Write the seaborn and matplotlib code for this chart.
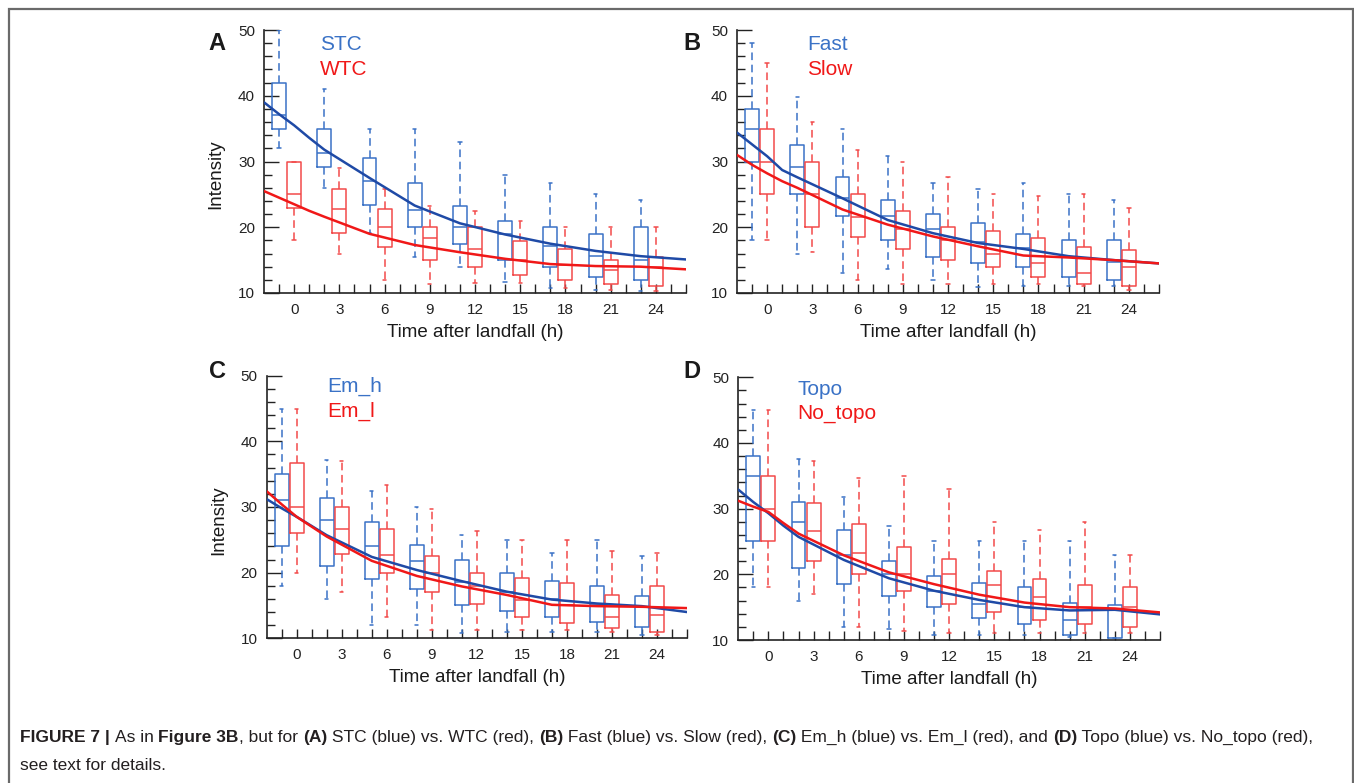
import matplotlib
matplotlib.use("Agg")
import matplotlib.pyplot as plt
import seaborn as sns
from matplotlib.patches import Rectangle
from matplotlib.ticker import MultipleLocator

# box stats per lead time: [whisker low, Q1, median, Q3, whisker high]
times = [0, 3, 6, 9, 12, 15, 18, 21, 24]

stc = [[32, 35, 37, 42, 50], [26, 29.2, 31.3, 35, 41], [19.2, 23.4, 27, 30.5, 35],
       [15.5, 20, 22.6, 26.7, 35], [14, 17.5, 20, 23.3, 33], [11.7, 15, 18.9, 21, 28],
       [10.8, 14, 17.2, 20, 26.7], [10.5, 12.4, 15.6, 19, 25], [10.3, 12, 15, 20, 24.1]]
wtc = [[18, 23, 25, 30, 30], [16, 19.2, 22.7, 25.8, 29], [12, 17, 20, 22.7, 25.8],
       [11.3, 15, 18.3, 20, 23.3], [11.5, 14, 16.7, 20, 22.5], [11.5, 12.8, 15, 17.9, 21],
       [10.8, 12, 14.3, 16.7, 20], [10.5, 11.3, 13.5, 15, 20], [10.3, 11, 13.9, 15.5, 20]]

fast = [[18, 30, 35, 38, 48], [16, 25, 29.2, 32.5, 39.8], [13, 21.7, 24.4, 27.7, 35],
        [13.7, 18, 21.7, 24.2, 30.8], [12, 15.5, 19.7, 22, 26.7], [10.9, 14.5, 17.8, 20.6, 25.8],
        [11, 14, 16.8, 19, 26.7], [11, 12.5, 15.4, 18, 25], [11, 12, 14.7, 18, 24.2]]
slow = [[18, 25, 30, 35, 45], [16.2, 20, 25, 30, 36], [12, 18.5, 21.6, 25, 31.7],
        [11.4, 16.7, 19.7, 22.5, 30], [11.3, 15, 18, 20, 27.6], [11.3, 14, 15.9, 19.4, 25],
        [11.3, 12.4, 14.6, 18.4, 24.7], [11, 11.4, 13, 17, 25], [10.5, 11.1, 14, 16.6, 23]]

emh = [[18, 24, 31, 35, 45], [16, 21, 28, 31.3, 37.2], [12, 19, 24, 27.7, 32.5],
       [12, 17.5, 21.7, 24.2, 30], [10.8, 15, 18.6, 22, 25.8], [11, 14.2, 17, 20, 25],
       [11, 13.3, 16, 18.7, 23], [11, 12.5, 15, 18, 25], [10.5, 11.7, 14.8, 16.5, 22.5]]
eml = [[20, 26, 30, 36.7, 45], [17, 22.8, 26.7, 30, 37], [13.3, 20, 22.7, 26.7, 33.3],
       [11.3, 17, 20, 22.5, 29.7], [11.3, 15.3, 18, 20, 26.3], [11.3, 13.3, 15.9, 19.2, 25],
       [11.3, 12.4, 15, 18.4, 25], [11, 11.6, 13.3, 16.6, 23.3], [10.5, 10.9, 13.5, 18, 23]]

topo = [[18, 25, 35, 38, 45], [16, 21, 28, 31, 37.5], [12, 18.5, 23, 26.7, 31.7],
        [11.7, 16.7, 20, 22.1, 27.4], [10.8, 15, 17.5, 19.7, 25], [10.8, 13.3, 15.5, 18.7, 25],
        [10.8, 12.4, 15, 18, 25], [10.5, 10.8, 13, 15.7, 25], [10.25, 10.25, 14.5, 15.4, 23]]
notopo = [[18, 25, 30, 35, 45], [17, 22.1, 26.6, 30.8, 37.2], [12, 20, 23.3, 27.7, 34.7],
          [11.3, 17.5, 20, 24.1, 35], [11, 15.5, 20, 22.4, 33], [11, 14.2, 18.3, 20.5, 28],
          [11, 13, 16.5, 19.3, 26.7], [11, 12.4, 15, 18.3, 28], [11, 12, 15, 18, 23]]

# fitted decay curves (hours after landfall)
curve_hours = [-2, -1, 0, 1, 2, 5, 8, 11, 14, 17, 20, 23, 26]
stc_fit = [39, 37.2, 35.5, 33.6, 31.8, 27.5, 23.3, 20.6, 18.9, 17.5, 16.4, 15.6, 15.1]
wtc_fit = [25.5, 24.5, 23.5, 22.5, 21.6, 19.0, 17.3, 16.2, 15.2, 14.4, 14.1, 14.0, 13.6]
fast_fit = [34.4, 32.6, 30.8, 28.7, 27.6, 24.4, 21.1, 19.1, 17.6, 16.7, 15.6, 15.0, 14.5]
slow_fit = [31.0, 29.5, 28.2, 27.0, 26.0, 22.7, 20.4, 18.6, 17.1, 15.7, 15.4, 15.0, 14.5]
emh_fit = [31.2, 29.8, 28.5, 27.1, 25.7, 22.4, 20.4, 18.7, 17.1, 15.9, 15.3, 14.9, 14.0]
eml_fit = [32.4, 30.4, 28.5, 27.0, 25.5, 21.8, 19.5, 17.9, 16.6, 15.1, 14.9, 14.8, 14.6]
topo_fit = [32.9, 31.0, 29.3, 27.4, 25.7, 22.2, 19.4, 17.5, 16.1, 15.0, 14.5, 14.6, 13.9]
notopo_fit = [31.2, 30.3, 29.5, 27.8, 26.2, 22.9, 20.3, 18.5, 16.9, 15.7, 15.0, 14.8, 14.2]

BOX_BLUE, LINE_BLUE = "#3a72c6", "#1f4aa6"
BOX_RED, LINE_RED = "#f24a4a", "#f01818"

W, H = 1354, 783
sns.set_theme(style="ticks")
plt.rcParams['font.family'] = ['Liberation Sans', 'DejaVu Sans']
plt.rcParams['text.color'] = '#1a1a1a'

fig = plt.figure(figsize=(W / 100, H / 100), dpi=100)
fig.patch.set_facecolor('white')


def px_axes(l, t, r, b):
    return fig.add_axes([l / W, 1 - b / H, (r - l) / W, (b - t) / H])


def draw_boxes(ax, rows, offset, color):
    stats = [dict(whislo=r[0], q1=r[1], med=r[2], q3=r[3], whishi=r[4]) for r in rows]
    pos = [t + offset for t in times]
    ax.bxp(stats, positions=pos, widths=0.92, showfliers=False, capwidths=0.22,
           boxprops=dict(color=color, lw=1.1),
           whiskerprops=dict(color=color, lw=1.1, ls=(0, (5, 3))),
           capprops=dict(color=color, lw=1.1),
           medianprops=dict(color=color, lw=1.1), manage_ticks=False)


def panel(ax, blue, red, blue_fit, red_fit, names, legend_xy, ylabel=None):
    draw_boxes(ax, blue, -1, BOX_BLUE)
    draw_boxes(ax, red, 0, BOX_RED)
    sns.lineplot(x=curve_hours, y=blue_fit, ax=ax, color=LINE_BLUE, lw=1.8, zorder=5)
    sns.lineplot(x=curve_hours, y=red_fit, ax=ax, color=LINE_RED, lw=1.8, zorder=6)
    ax.set_xlim(-2, 26)
    ax.set_ylim(10, 50)
    ax.set_xticks(range(-1, 27))
    ax.set_xticklabels([str(h) if h in times else '' for h in range(-1, 27)])
    ax.yaxis.set_major_locator(MultipleLocator(10))
    ax.yaxis.set_minor_locator(MultipleLocator(2))
    ax.tick_params(axis='y', which='major', direction='in', length=11, width=1.0,
                   pad=6.5, labelsize=11, colors='#222222')
    ax.tick_params(axis='y', which='minor', direction='in', length=5.5, width=1.0, colors='#222222')
    ax.tick_params(axis='x', which='major', direction='in', length=6.5, width=1.0,
                   pad=7, labelsize=11, colors='#222222')
    for s in ['top', 'right']:
        ax.spines[s].set_visible(False)
    for s in ['left', 'bottom']:
        ax.spines[s].set_linewidth(1.2)
        ax.spines[s].set_color('#222222')
    ax.set_facecolor('white')
    ax.set_xlabel("Time after landfall (h)", fontsize=13.5, labelpad=5, color='#1a1a1a')
    if ylabel:
        ax.set_ylabel(ylabel, fontsize=13.5, color='#1a1a1a')
        ax.yaxis.set_label_coords(-0.095, 0.45)
    lx, ly = legend_xy
    ax.text(lx, ly, names[0], transform=ax.transAxes, color=BOX_BLUE, fontsize=15,
            ha='left', va='center')
    ax.text(lx, ly - 0.093, names[1], transform=ax.transAxes, color=LINE_RED, fontsize=15,
            ha='left', va='center')


axA = px_axes(264, 30, 686, 293)
axB = px_axes(737, 30, 1159, 293)
axC = px_axes(266.7, 375.7, 687, 638.3)
axD = px_axes(738.3, 377.3, 1160, 640)

panel(axA, stc, wtc, stc_fit, wtc_fit, ["STC", "WTC"], (0.133, 0.943), "Intensity")
panel(axB, fast, slow, fast_fit, slow_fit, ["Fast", "Slow"], (0.166, 0.943))
panel(axC, emh, eml, emh_fit, eml_fit, ["Em_h", "Em_l"], (0.143, 0.958), "Intensity")
panel(axD, topo, notopo, topo_fit, notopo_fit, ["Topo", "No_topo"], (0.14, 0.955))

for letter, x, y in [("A", 217, 43), ("B", 692, 43), ("C", 217, 371), ("D", 692, 372)]:
    fig.text(x / W, 1 - y / H, letter, fontsize=17, fontweight='bold', ha='center', va='center')

# frame round the figure
fig.add_artist(Rectangle((8.5 / W, -0.05), (1352.5 - 8.5) / W, 1.05 - 8.5 / H,
                         transform=fig.transFigure, fill=False, ec='#6a6a6a', lw=1.6))

# caption with bold parts
cap1 = [("FIGURE 7", 'bold'), (" | ", 'bold'), ("As in ", 'normal'), ("Figure 3B", 'bold'),
        (", but for ", 'normal'), ("(A)", 'bold'), (" STC (blue) vs. WTC (red), ", 'normal'),
        ("(B)", 'bold'), (" Fast (blue) vs. Slow (red), ", 'normal'), ("(C)", 'bold'),
        (" Em_h (blue) vs. Em_l (red), and ", 'normal'), ("(D)", 'bold'),
        (" Topo (blue) vs. No_topo (red),", 'normal')]
cap2 = [("see text for details.", 'normal')]

renderer = fig.canvas.get_renderer()


def write_line(parts, x0, y0, size):
    x = x0
    made = []
    for txt, wt in parts:
        t = fig.text(x / W, 1 - y0 / H, txt, fontsize=size, fontweight=wt,
                     ha='left', va='baseline', color='#231f20')
        made.append(t)
        x += t.get_window_extent(renderer=renderer).width
    return x, made


# size the caption so the first line ends where it does in the figure
size = 11.0
for _ in range(3):
    end, made = write_line(cap1, 20, 742, size)
    for t in made:
        t.remove()
    size = size * (1306 - 20) / (end - 20)
write_line(cap1, 20, 742, size)
write_line(cap2, 20, 770, size)

fig.savefig("out.png", dpi=100, facecolor='white')
